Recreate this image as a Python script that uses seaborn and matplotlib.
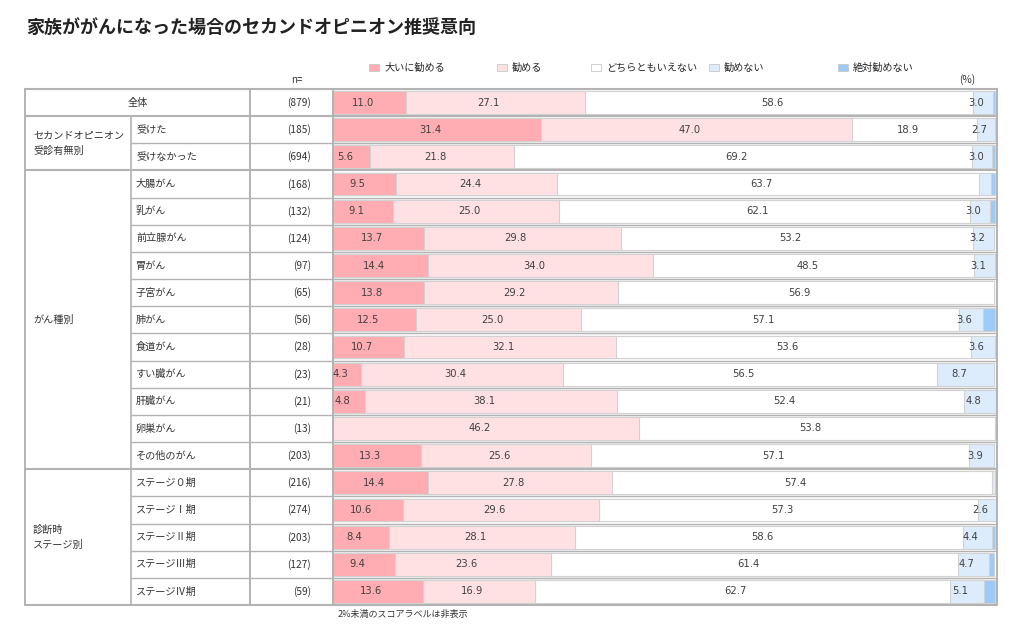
import numpy as np
import pandas as pd
import seaborn as sns
import matplotlib.pyplot as plt
from matplotlib.patches import Patch
from matplotlib.transforms import blended_transform_factory

# ---- data ----
title = "家族ががんになった場合のセカンドオピニオン推奨意向"
categories = ["大いに勧める", "勧める", "どちらともいえない", "勧めない", "絶対勧めない"]
colors = ["#ffadb2", "#ffe1e4", "#ffffff", "#ddecfc", "#9dcbf8"]

rows = ["全体", "受けた", "受けなかった", "大腸がん", "乳がん", "前立腺がん", "胃がん",
        "子宮がん", "肺がん", "食道がん", "すい臓がん", "肝臓がん", "卵巣がん", "その他のがん",
        "ステージ０期", "ステージⅠ期", "ステージⅡ期", "ステージⅢ期", "ステージⅣ期"]
n_values = [879, 185, 694, 168, 132, 124, 97, 65, 56, 28, 23, 21, 13, 203,
            216, 274, 203, 127, 59]
group_names = ["", "セカンドオピニオン\n受診有無別", "がん種別", "診断時\nステージ別"]
group_sizes = [1, 2, 11, 5]

strongly = [11.0, 31.4, 5.6, 9.5, 9.1, 13.7, 14.4, 13.8, 12.5, 10.7, 4.3, 4.8, 0.0, 13.3,
            14.4, 10.6, 8.4, 9.4, 13.6]
recommend = [27.1, 47.0, 21.8, 24.4, 25.0, 29.8, 34.0, 29.2, 25.0, 32.1, 30.4, 38.1, 46.2, 25.6,
             27.8, 29.6, 28.1, 23.6, 16.9]
neutral = [58.6, 18.9, 69.2, 63.7, 62.1, 53.2, 48.5, 56.9, 57.1, 53.6, 56.5, 52.4, 53.8, 57.1,
           57.4, 57.3, 58.6, 61.4, 62.7]
not_rec = [3.0, 2.7, 3.0, 1.8, 3.0, 3.2, 3.1, 0.0, 3.6, 3.6, 8.7, 4.8, 0.0, 3.9,
           0.4, 2.6, 4.4, 4.7, 5.1]
never = [0.3, 0.0, 0.4, 0.6, 0.8, 0.0, 0.0, 0.0, 1.8, 0.0, 0.0, 0.0, 0.0, 0.0,
         0.0, 0.0, 0.5, 0.8, 1.7]

df = pd.DataFrame({"row": rows, "n": n_values})
for name, vals in zip(categories, [strongly, recommend, neutral, not_rec, never]):
    df[name] = vals
cum = df[categories].cumsum(axis=1)
for name in categories:
    df["cum_" + name] = cum[name]

# ---- figure ----
sns.set_style("white")
plt.rcParams["font.family"] = ["Noto Sans CJK JP", "DejaVu Sans"]

W, H = 1024, 627
fig = plt.figure(figsize=(W / 100, H / 100), dpi=100)
top_px, bot_px = 89, 605
ax = fig.add_axes([333 / W, 1 - bot_px / H, (997 - 333) / W, (bot_px - top_px) / H])

# stacked bars: draw cumulative totals from the longest down
for name, col in reversed(list(zip(categories, colors))):
    sns.barplot(data=df, x="cum_" + name, y="row", orient="h", color=col, saturation=1,
                edgecolor="#d2d2d2", linewidth=0.8, width=0.84, errorbar=None, ax=ax)

nrow = len(rows)
ax.set_xlim(0, 100 * (997 - 333) / (995 - 333))
ax.set_ylim(nrow - 0.5, -0.5)
ax.axis("off")

# value labels (2% and above)
for i in range(nrow):
    left = 0
    for name in categories:
        v = df.loc[i, name]
        if v >= 2:
            ax.text(left + v / 2 - 1.0, i, f"{v:.1f}", ha="center", va="center",
                    fontsize=7.2, family="DejaVu Sans", color="#404040")
        left += v

# ---- table on the left ----
tr = blended_transform_factory(fig.transFigure, ax.transData)
x_l, x_grp, x_n, x_bar, x_r = 25 / W, 131 / W, 250 / W, 333 / W, 997 / W
line_kw = dict(color="#b3b3b3", transform=tr, clip_on=False)

group_edges = np.cumsum([0] + group_sizes) - 0.5
for b in np.arange(nrow + 1) - 0.5:
    if b in group_edges:
        ax.plot([x_l, x_r], [b, b], lw=1.5, **line_kw)
    else:
        ax.plot([x_grp, x_r], [b, b], lw=1.0, **line_kw)
for x in [x_l, x_n, x_bar, x_r]:
    ax.plot([x, x], [-0.5, nrow - 0.5], lw=1.4, **line_kw)
ax.plot([x_grp, x_grp], [0.5, nrow - 0.5], lw=1.2, **line_kw)

txt_kw = dict(transform=tr, va="center", fontsize=7.3, color="#333333")
ax.text((x_l + x_n) / 2, 0, rows[0], ha="center", **txt_kw)
for i in range(1, nrow):
    ax.text(136 / W, i, rows[i], ha="left", **txt_kw)
for i in range(nrow):
    ax.text(311 / W, i, f"({n_values[i]})", ha="right", **txt_kw)
for g, (name, start) in enumerate(zip(group_names, group_edges[:-1])):
    if name:
        mid = start + group_sizes[g] / 2
        ax.text(33 / W, mid, name, ha="left", linespacing=1.6, **txt_kw)

# ---- legend, headers, notes ----
legend_x = [369, 497, 591, 709, 838]
for name, col, lx in zip(categories, colors, legend_x):
    fig.legend(handles=[Patch(facecolor=col, edgecolor="#c8c8c8", lw=0.6, label=name)],
               loc="center left", bbox_to_anchor=(lx / W, 1 - 68 / H), frameon=False,
               fontsize=7.3, handlelength=1.0, handleheight=0.75, handletextpad=0.5,
               borderpad=0, borderaxespad=0)

fig.text(26 / W, 1 - 28 / H, title, fontsize=13, fontweight="bold", va="center",
         color="#222222")
fig.text(297 / W, 1 - 80 / H, "n=", fontsize=7, ha="center", va="center", color="#333333")
fig.text(967 / W, 1 - 80 / H, "(%)", fontsize=7.3, ha="center", va="center", color="#333333")
fig.text(338 / W, 1 - 614 / H, "2%未満のスコアラベルは非表示", fontsize=6.5, va="center",
         color="#333333")

fig.savefig("out.png", dpi=100, facecolor="white")
